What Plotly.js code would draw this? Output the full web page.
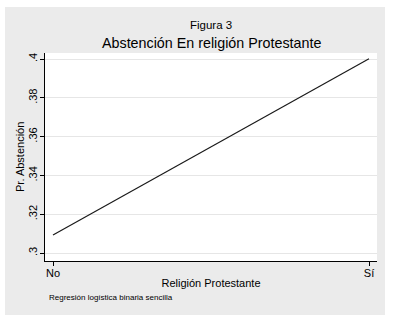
<!DOCTYPE html>
<html>
<head>
<meta charset="utf-8">
<script src="https://cdn.plot.ly/plotly-3.0.1.min.js"></script>
<style>html,body{margin:0;padding:0;background:#fff;}#chart{width:394px;height:321px;}</style>
</head>
<body>
<div id="chart"></div>
<script>
const categories = ["No", "Sí"];
const xValues = [0, 1];
const probAbstencion = [0.3093, 0.4001];
const yTickVals = [0.3, 0.32, 0.34, 0.36, 0.38, 0.4];
const yTickText = [".3", ".32", ".34", ".36", ".38", ".4"];

const font = "Liberation Sans, Arial, sans-serif";
const W = 332, H = 208;
const trace = {
  x: xValues, y: probAbstencion, type: "scatter", mode: "lines",
  line: {color: "#1a1a1a", width: 1.2}, hoverinfo: "none", showlegend: false
};
const layout = {
  width: 394, height: 321,
  margin: {l: 45, r: 17, t: 53, b: 60},
  paper_bgcolor: "#ffffff",
  plot_bgcolor: "rgba(0,0,0,0)",
  font: {family: font, color: "#000"},
  xaxis: {
    range: [-0.0253, 1.0253], tickvals: xValues, ticktext: categories,
    ticks: "outside", ticklen: 4, tickcolor: "#000", showline: true, linecolor: "#000", linewidth: 1,
    showgrid: false, zeroline: false, tickfont: {size: 11, family: font}, ticklabelstandoff: -2,
    title: {text: "Religión Protestante", font: {size: 11, family: font}, standoff: 1}
  },
  yaxis: {
    range: [0.2959, 0.4031], tickvals: yTickVals, ticktext: yTickText, tickangle: -90,
    ticks: "outside", ticklen: 4, tickcolor: "#000", showline: true, linecolor: "#000", linewidth: 1,
    showgrid: true, gridcolor: "#e6e6e6", gridwidth: 1, zeroline: false,
    tickfont: {size: 11, family: font}, ticklabelstandoff: -1
  },
  shapes: [
    {type: "rect", xref: "paper", yref: "paper", layer: "below",
     x0: -40/W, x1: 1 + 8/W, y0: -54/H, y1: 1 + 46/H,
     fillcolor: "#ebebeb", line: {width: 0}},
    {type: "rect", xref: "paper", yref: "paper", layer: "below",
     x0: 0, x1: 1, y0: 0, y1: 1, fillcolor: "#ffffff", line: {width: 0}}
  ],
  annotations: [
    {text: "Figura 3", xref: "paper", yref: "paper", x: 0.5, y: 1 + 28/H,
     showarrow: false, xanchor: "center", yanchor: "middle", font: {size: 11.5, family: font}},
    {text: "Abstención En religión Protestante", xref: "paper", yref: "paper", x: 0.5, y: 1 + 10/H,
     showarrow: false, xanchor: "center", yanchor: "middle", font: {size: 14.3, family: font}},
    {text: "Pr. Abstención", xref: "paper", yref: "paper", x: -25/W, y: 0.5, textangle: -90,
     showarrow: false, xanchor: "center", yanchor: "middle", font: {size: 11, family: font}},
    {text: "Regresión logística binaria sencilla", xref: "paper", yref: "paper", x: 2/W, y: -36/H,
     showarrow: false, xanchor: "left", yanchor: "middle", font: {size: 8, family: font}}
  ]
};
Plotly.newPlot("chart", [trace], layout, {displayModeBar: false, staticPlot: true});
</script>
</body>
</html>
